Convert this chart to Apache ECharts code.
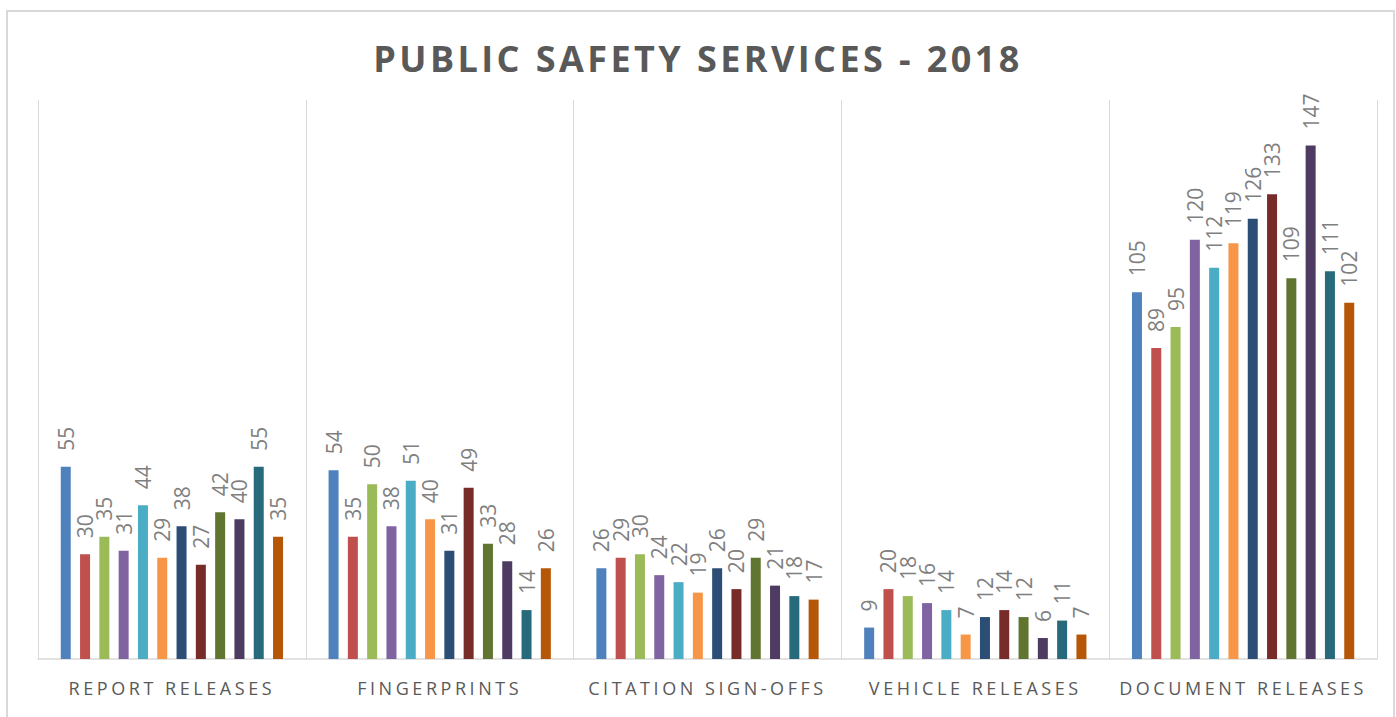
<!DOCTYPE html>
<html>
<head>
<meta charset="utf-8">
<title>Public Safety Services - 2018</title>
<script src="https://cdn.jsdelivr.net/npm/echarts@6/dist/echarts.min.js"></script>
<style>
    html,body{margin:0;padding:0;background:#fff;}
    #main{width:1396px;height:717px;}
</style>
</head>
<body>
<div id="main"></div>
<script>
var titleText = "PUBLIC SAFETY SERVICES - 2018";
var categories = ["REPORT RELEASES", "FINGERPRINTS", "CITATION SIGN-OFFS", "VEHICLE RELEASES", "DOCUMENT RELEASES"];
var months = ["Jan", "Feb", "Mar", "Apr", "May", "Jun", "Jul", "Aug", "Sep", "Oct", "Nov", "Dec"];

// values per category, one per month
var reportReleases   = [55, 30, 35, 31, 44, 29, 38, 27, 42, 40, 55, 35];
var fingerprints     = [54, 35, 50, 38, 51, 40, 31, 49, 33, 28, 14, 26];
var citationSignOffs = [26, 29, 30, 24, 22, 19, 26, 20, 29, 21, 18, 17];
var vehicleReleases  = [9, 20, 18, 16, 14, 7, 12, 14, 12, 6, 11, 7];
var documentReleases = [105, 89, 95, 120, 112, 119, 126, 133, 109, 147, 111, 102];

var colors = ['#4F81BD', '#C0504D', '#9BBB59', '#8064A2', '#4BACC6', '#F79646',
              '#2C4D75', '#772C2A', '#5F7530', '#4D3B62', '#276A7C', '#B65708'];

var FONT = '"Open Sans", "Noto Sans", sans-serif';

// letter spacing so text spreads like the original
function measure(text, font) {
    var c = document.createElement('canvas').getContext('2d');
    c.font = font;
    return c.measureText(text).width;
}
var titleLs = (646 - measure(titleText, 'bold 36px "Open Sans"')) / (titleText.length - 1);
var catLs = (203 - measure(categories[0], '18px "Open Sans"')) / (categories[0].length - 1);

var rows = [reportReleases, fingerprints, citationSignOffs, vehicleReleases, documentReleases];
var series = [];
for (var m = 0; m < months.length; m++) {
    var d = [];
    for (var k = 0; k < rows.length; k++) {
        d.push(rows[k][m]);
    }
    series.push({
        name: months[m],
        type: 'bar',
        data: d,
        barGap: '93%',
        barCategoryGap: '17%',
        itemStyle: { color: colors[m] },
        label: {
            show: true,
            position: 'top',
            rotate: 90,
            align: 'left',
            verticalAlign: 'middle',
            distance: 16,
            color: '#7f7f7f',
            fontFamily: FONT,
            fontSize: 21
        }
    });
}

var myChart = echarts.init(document.getElementById('main'), null, { renderer: 'svg' });

var option = {
    backgroundColor: '#fff',
    animation: false,
    title: {
        text: titleText,
        left: 'center',
        top: 40,
        padding: 0,
        textStyle: {
            color: '#595959',
            fontFamily: FONT,
            fontWeight: 'bold',
            fontSize: 36
        }
    },
    graphic: [{
        type: 'rect',
        shape: { x: 7, y: 11, width: 1387, height: 720 },
        style: { fill: 'none', stroke: '#d9d9d9', lineWidth: 2 },
        silent: true
    }],
    grid: {
        left: 38,
        right: 19,
        top: 100,
        bottom: 58
    },
    xAxis: {
        type: 'category',
        data: categories,
        axisLine: { lineStyle: { color: '#d9d9d9', width: 1.5 } },
        axisTick: { show: false },
        splitLine: { show: true, lineStyle: { color: '#d9d9d9', width: 1 } },
        axisLabel: {
            color: '#595959',
            fontFamily: FONT,
            fontSize: 18,
            margin: 20
        }
    },
    yAxis: {
        type: 'value',
        min: 0,
        max: 160,
        show: false,
        splitLine: { show: false }
    },
    series: series
};

myChart.on('finished', function () {
    var texts = document.querySelectorAll('#main text');
    for (var i = 0; i < texts.length; i++) {
        var s = texts[i].textContent;
        if (s === titleText) {
            texts[i].style.letterSpacing = titleLs + 'px';
        } else if (categories.indexOf(s) >= 0) {
            texts[i].style.letterSpacing = catLs + 'px';
        }
    }
});

myChart.setOption(option);
</script>
</body>
</html>
